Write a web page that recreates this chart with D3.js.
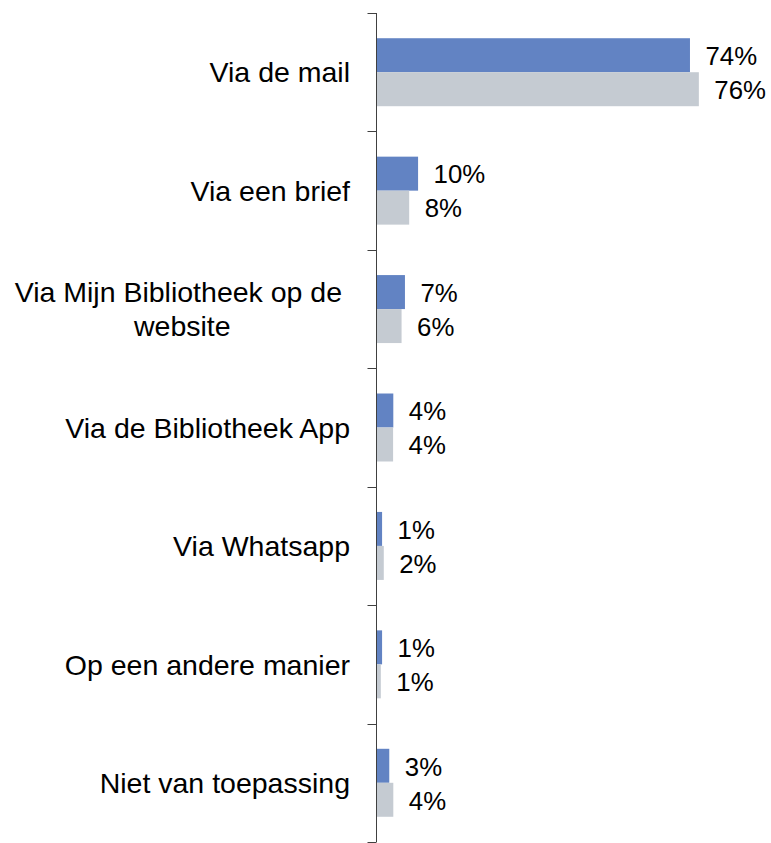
<!DOCTYPE html>
<html>
<head>
<meta charset="utf-8">
<script src="https://cdn.jsdelivr.net/npm/d3@7"></script>
<style>
  html, body { margin: 0; padding: 0; background: #fff; }
  svg { display: block; }
  text { font-family: "Liberation Sans", Arial, sans-serif; fill: #000; }
</style>
</head>
<body>
<svg id="chart" width="771" height="843"></svg>
<script>
// ---- Data ----
const categories = [
  "Via de mail",
  "Via een brief",
  "Via Mijn Bibliotheek op de website",
  "Via de Bibliotheek App",
  "Via Whatsapp",
  "Op een andere manier",
  "Niet van toepassing"
];
// line breaks for category labels
const categoryLines = [
  ["Via de mail"],
  ["Via een brief"],
  ["Via Mijn Bibliotheek op de ", "website"],
  ["Via de Bibliotheek App"],
  ["Via Whatsapp"],
  ["Op een andere manier"],
  ["Niet van toepassing"]
];
const seriesNames = ["A", "B"];
const seriesA = [73.9, 9.7, 6.6, 3.85, 1.2, 1.2, 2.9];   // blue
const seriesB = [76.0, 7.6, 5.8, 3.8, 1.6, 0.9, 3.85];   // gray
const seriesColors = ["#6283C3", "#C5CBD2"];

// ---- Layout ----
const svg = d3.select("#chart");
const axisX = 376.5;
const catFont = 28.5, valFont = 25.8;

const x = d3.scaleLinear().domain([0, 100]).range([377, 800.5]);
const y0 = d3.scaleBand().domain(categories).range([13, 842]).padding(0);
const y1 = d3.scaleBand().domain(seriesNames).range([0, y0.bandwidth()])
  .paddingInner(0).paddingOuter(0.742);

const rows = categories.map((c, i) => ({
  cat: c, lines: categoryLines[i],
  vals: [seriesA[i], seriesB[i]]
}));

// Bars
const g = svg.append("g");
rows.forEach(r => {
  r.vals.forEach((v, j) => {
    const yy = y0(r.cat) + y1(seriesNames[j]);
    g.append("rect")
      .attr("x", x(0))
      .attr("y", yy)
      .attr("width", x(v) - x(0))
      .attr("height", y1.bandwidth())
      .attr("fill", seriesColors[j]);
    g.append("text")
      .attr("x", x(v) + 15.5)
      .attr("y", yy + y1.bandwidth() / 2 + valFont * 0.358 + 0.5)
      .attr("font-size", valFont)
      .text(d3.format(".0f")(v) + "%");
  });
});

// Axis
const axisG = svg.append("g").attr("transform", `translate(${axisX},0)`);
axisG.append("line")
  .attr("x1", 0).attr("x2", 0)
  .attr("y1", y0.range()[0]).attr("y2", y0.range()[1])
  .attr("stroke", "#404040").attr("stroke-width", 1);
// tick marks at band boundaries
const boundaries = categories.map(c => y0(c)).concat([y0.range()[1]]);
axisG.selectAll("line.tick").data(boundaries).enter().append("line")
  .attr("class", "tick")
  .attr("x1", -9).attr("x2", 0)
  .attr("y1", d => Math.round(d) + 0.5).attr("y2", d => Math.round(d) + 0.5)
  .attr("stroke", "#404040").attr("stroke-width", 1);

// Category labels
const labelRight = 350;
const lineH = 34;
rows.forEach(r => {
  const cy = y0(r.cat) + y0.bandwidth() / 2;
  const tg = svg.append("g");
  const texts = r.lines.map(l => tg.append("text")
    .attr("font-size", catFont)
    .attr("xml:space", "preserve")
    .style("white-space", "pre")
    .text(l));
  const widths = texts.map(t => t.node().getComputedTextLength());
  const maxW = Math.max(...widths);
  const center = labelRight - maxW / 2;
  const n = r.lines.length;
  texts.forEach((t, k) => {
    const base = cy + catFont * 0.358 + (k - (n - 1) / 2) * lineH;
    t.attr("x", center).attr("y", base).attr("text-anchor", "middle");
  });
});
</script>
</body>
</html>
